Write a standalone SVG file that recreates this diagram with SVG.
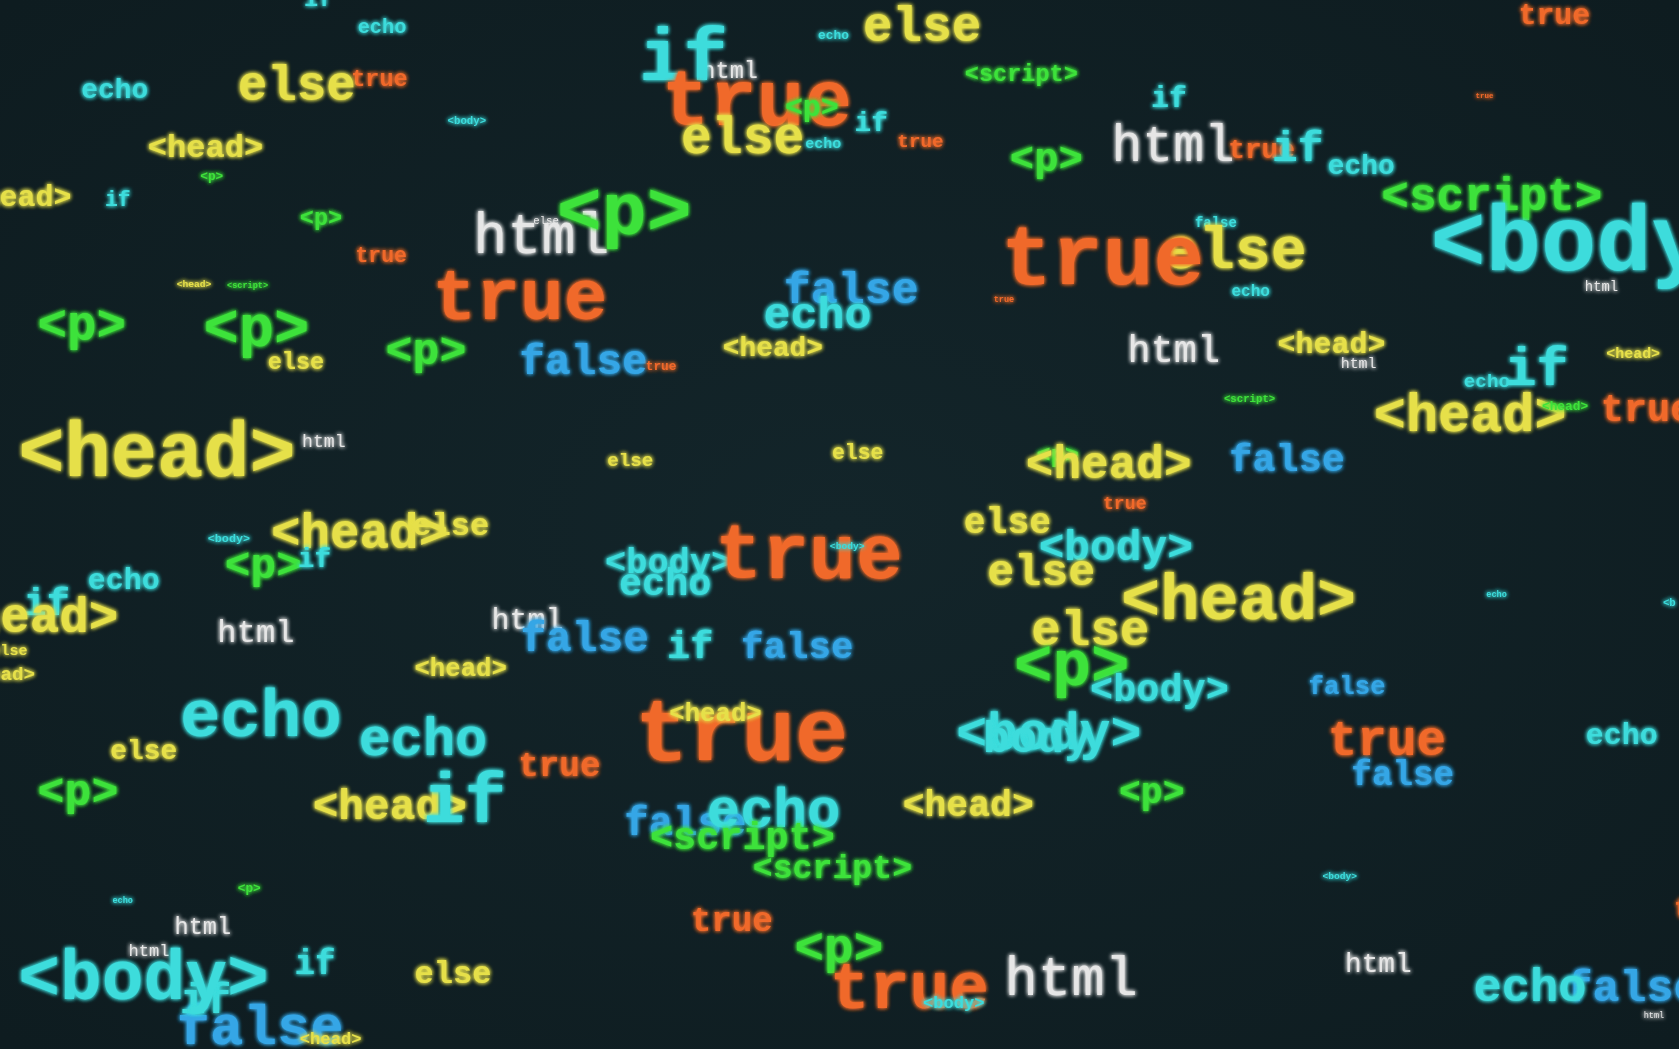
<svg xmlns="http://www.w3.org/2000/svg" width="1679" height="1049" viewBox="0 0 1679 1049">
<defs>
<filter id="glow" x="-20%" y="-40%" width="140%" height="180%">
<feGaussianBlur in="SourceGraphic" stdDeviation="2.2" result="b"/>
<feMerge><feMergeNode in="b"/><feMergeNode in="b"/><feMergeNode in="SourceGraphic"/></feMerge>
</filter>
<radialGradient id="bg" cx="50%" cy="50%" r="70%">
<stop offset="0" stop-color="#13252a"/>
<stop offset="1" stop-color="#0e1c20"/>
</radialGradient>
</defs>
<style>
text{font-family:"Liberation Mono","Courier New",monospace;font-weight:bold;filter:url(#glow)}
.y{fill:#e6e04a}.o{fill:#f0692a}.c{fill:#3cdcdc}.b{fill:#34a6e6}.g{fill:#3ee23a}.w{fill:#e6e6e6;font-weight:normal}
</style>
<rect width="1679" height="1049" fill="url(#bg)"/>
<g id="scene" transform="scale(1.0708,1.0704)">
<!-- top band -->
<text class="c" x="284" y="6" font-size="22">if</text>
<text class="c" x="334" y="31" font-size="19">echo</text>
<text class="c" x="76" y="92" font-size="26">echo</text>
<text class="o" x="328" y="80" font-size="22">true</text>
<text class="y" x="222" y="93" font-size="46">else</text>
<text class="y" x="138" y="147" font-size="30">&lt;head&gt;</text>
<text class="g" x="187" y="168" font-size="12">&lt;p&gt;</text>
<text class="y" x="-34" y="192" font-size="28">&lt;head&gt;</text>
<text class="c" x="98" y="192" font-size="20">if</text>
<text class="g" x="280" y="210" font-size="22">&lt;p&gt;</text>
<text class="o" x="332" y="245" font-size="20">true</text>
<text class="y" x="165" y="268" font-size="9">&lt;head&gt;</text>
<text class="g" x="212" y="269" font-size="8">&lt;script&gt;</text>
<text class="g" x="35" y="318" font-size="46">&lt;p&gt;</text>
<text class="g" x="190" y="323" font-size="55">&lt;p&gt;</text>
<text class="y" x="250" y="345" font-size="22">else</text>
<text class="g" x="360" y="340" font-size="42">&lt;p&gt;</text>
<text class="c" x="418" y="116" font-size="10">&lt;body&gt;</text>
<text class="w" x="442" y="236" font-size="53">html</text>
<text class="w" x="498" y="209" font-size="10">else</text>
<text class="g" x="520" y="219" font-size="70">&lt;p&gt;</text>
<text class="w" x="655" y="73" font-size="22">html</text>
<text class="c" x="597" y="75" font-size="69">if</text>
<text class="o" x="618" y="117" font-size="74">true</text>
<text class="g" x="733" y="108" font-size="28">&lt;p&gt;</text>
<text class="c" x="798" y="122" font-size="26">if</text>
<text class="y" x="636" y="143" font-size="48">else</text>
<text class="c" x="752" y="138" font-size="14">echo</text>
<text class="o" x="838" y="137" font-size="18">true</text>
<text class="c" x="764" y="36" font-size="12">echo</text>
<text class="y" x="806" y="38" font-size="46">else</text>
<text class="g" x="901" y="76" font-size="22">&lt;script&gt;</text>
<text class="c" x="1075" y="100" font-size="28">if</text>
<text class="w" x="1038" y="150" font-size="48">html</text>
<text class="o" x="1147" y="148" font-size="26">true</text>
<text class="c" x="1188" y="150" font-size="40">if</text>
<text class="c" x="1240" y="163" font-size="26">echo</text>
<text class="g" x="943" y="160" font-size="38">&lt;p&gt;</text>
<text class="o" x="1418" y="22" font-size="28">true</text>
<text class="o" x="1378" y="92" font-size="7">true</text>
<text class="g" x="1290" y="196" font-size="43">&lt;script&gt;</text>
<text class="c" x="1336" y="252" font-size="86">&lt;body&gt;</text>
<text class="w" x="1480" y="272" font-size="13">html</text>
<text class="c" x="1116" y="212" font-size="13">false</text>
<text class="y" x="1086" y="250" font-size="56">else</text>
<text class="o" x="935" y="265" font-size="79">true</text>
<text class="c" x="1150" y="277" font-size="15">echo</text>
<text class="o" x="928" y="282" font-size="8">true</text>
<!-- upper middle -->
<text class="w" x="1053" y="338" font-size="36">html</text>
<text class="y" x="1193" y="330" font-size="28">&lt;head&gt;</text>
<text class="w" x="1252" y="344" font-size="14">html</text>
<text class="c" x="1367" y="362" font-size="18">echo</text>
<text class="c" x="1405" y="360" font-size="50">if</text>
<text class="y" x="1500" y="334" font-size="14">&lt;head&gt;</text>
<text class="g" x="1143" y="376" font-size="10">&lt;script&gt;</text>
<text class="y" x="1283" y="403" font-size="50">&lt;head&gt;</text>
<text class="g" x="1440" y="383" font-size="12">&lt;head&gt;</text>
<text class="o" x="1495" y="393" font-size="36">true</text>
<text class="o" x="404" y="298" font-size="68">true</text>
<text class="b" x="485" y="349" font-size="40">false</text>
<text class="o" x="603" y="346" font-size="12">true</text>
<text class="y" x="675" y="333" font-size="26">&lt;head&gt;</text>
<text class="b" x="732" y="283" font-size="42">false</text>
<text class="c" x="713" y="306" font-size="42">echo</text>
<!-- middle -->
<text class="y" x="17" y="445" font-size="72">&lt;head&gt;</text>
<text class="w" x="282" y="418" font-size="17">html</text>
<text class="y" x="567" y="435" font-size="18">else</text>
<text class="y" x="777" y="429" font-size="20">else</text>
<text class="g" x="968" y="432" font-size="22">&lt;p&gt;</text>
<text class="y" x="958" y="447" font-size="43">&lt;head&gt;</text>
<text class="b" x="1148" y="440" font-size="36">false</text>
<text class="o" x="1030" y="476" font-size="17">true</text>
<text class="c" x="194" y="506" font-size="11">&lt;body&gt;</text>
<text class="y" x="253" y="512" font-size="46">&lt;head&gt;</text>
<text class="y" x="385" y="500" font-size="30">else</text>
<text class="g" x="210" y="540" font-size="40">&lt;p&gt;</text>
<text class="c" x="278" y="530" font-size="26">if</text>
<text class="c" x="82" y="550" font-size="28">echo</text>
<text class="c" x="22" y="575" font-size="36">if</text>
<text class="y" x="-55" y="590" font-size="46">&lt;head&gt;</text>
<text class="y" x="-8" y="612" font-size="14">else</text>
<text class="y" x="-32" y="635" font-size="18">&lt;head&gt;</text>
<text class="w" x="203" y="600" font-size="30">html</text>
<text class="w" x="459" y="588" font-size="28">html</text>
<text class="b" x="486" y="608" font-size="40">false</text>
<text class="c" x="623" y="615" font-size="36">if</text>
<text class="b" x="692" y="615" font-size="35">false</text>
<text class="y" x="387" y="632" font-size="24">&lt;head&gt;</text>
<text class="c" x="565" y="535" font-size="33">&lt;body&gt;</text>
<text class="c" x="578" y="556" font-size="36">echo</text>
<text class="o" x="668" y="540" font-size="73">true</text>
<text class="c" x="775" y="513" font-size="9">&lt;body&gt;</text>
<text class="y" x="900" y="498" font-size="34">else</text>
<text class="c" x="970" y="523" font-size="40">&lt;body&gt;</text>
<text class="y" x="922" y="547" font-size="42">else</text>
<text class="y" x="1047" y="578" font-size="61">&lt;head&gt;</text>
<text class="y" x="963" y="603" font-size="46">else</text>
<text class="g" x="947" y="640" font-size="60">&lt;p&gt;</text>
<text class="c" x="1018" y="655" font-size="36">&lt;body&gt;</text>
<text class="b" x="1222" y="648" font-size="24">false</text>
<text class="c" x="1388" y="558" font-size="8">echo</text>
<text class="c" x="1553" y="566" font-size="10">&lt;b</text>
<!-- lower middle -->
<text class="c" x="893" y="700" font-size="48">&lt;body&gt;</text>
<text class="c" x="918" y="703" font-size="42">body</text>
<text class="o" x="593" y="710" font-size="83">true</text>
<text class="y" x="625" y="674" font-size="24">&lt;head&gt;</text>
<text class="c" x="168" y="688" font-size="63">echo</text>
<text class="c" x="335" y="705" font-size="50">echo</text>
<text class="o" x="484" y="725" font-size="32">true</text>
<text class="y" x="103" y="709" font-size="26">else</text>
<text class="g" x="35" y="752" font-size="42">&lt;p&gt;</text>
<text class="y" x="292" y="765" font-size="40">&lt;head&gt;</text>
<text class="c" x="395" y="768" font-size="65">if</text>
<text class="y" x="843" y="762" font-size="34">&lt;head&gt;</text>
<text class="g" x="1045" y="750" font-size="34">&lt;p&gt;</text>
<text class="o" x="1240" y="705" font-size="46">true</text>
<text class="b" x="1262" y="733" font-size="32">false</text>
<text class="c" x="1481" y="695" font-size="28">echo</text>
<text class="b" x="583" y="780" font-size="38">false</text>
<text class="c" x="660" y="773" font-size="52">echo</text>
<text class="g" x="607" y="793" font-size="36">&lt;script&gt;</text>
<text class="g" x="703" y="820" font-size="31">&lt;script&gt;</text>
<!-- bottom -->
<text class="g" x="222" y="833" font-size="12">&lt;p&gt;</text>
<text class="c" x="105" y="844" font-size="8">echo</text>
<text class="c" x="1235" y="821" font-size="9">&lt;body&gt;</text>
<text class="w" x="163" y="873" font-size="22">html</text>
<text class="w" x="120" y="893" font-size="16">html</text>
<text class="b" x="165" y="975" font-size="52">false</text>
<text class="c" x="168" y="946" font-size="40">if</text>
<text class="c" x="17" y="933" font-size="65">&lt;body&gt;</text>
<text class="c" x="275" y="910" font-size="32">if</text>
<text class="y" x="280" y="975" font-size="16">&lt;head&gt;</text>
<text class="y" x="387" y="918" font-size="30">else</text>
<text class="o" x="645" y="870" font-size="32">true</text>
<text class="g" x="742" y="900" font-size="46">&lt;p&gt;</text>
<text class="o" x="775" y="942" font-size="62">true</text>
<text class="c" x="862" y="942" font-size="16">&lt;body&gt;</text>
<text class="w" x="938" y="930" font-size="52">html</text>
<text class="w" x="1256" y="908" font-size="26">html</text>
<text class="b" x="1462" y="935" font-size="42">false</text>
<text class="c" x="1376" y="935" font-size="44">echo</text>
<text class="w" x="1535" y="951" font-size="8">html</text>
<text class="o" x="1563" y="858" font-size="28">true</text>
</g>
</svg>
